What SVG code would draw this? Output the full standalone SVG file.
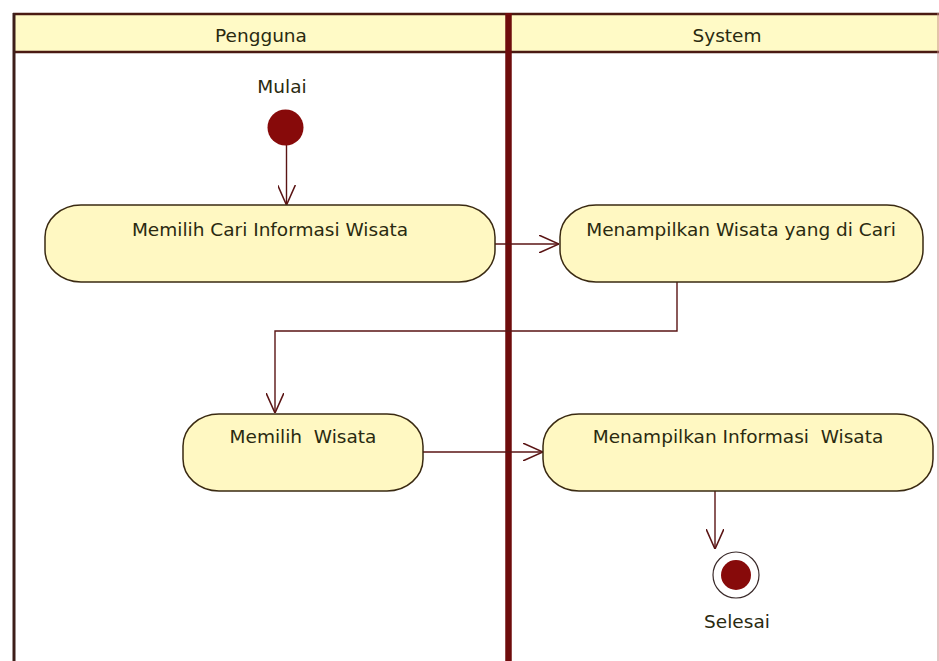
<svg xmlns="http://www.w3.org/2000/svg" width="939" height="661" viewBox="0 0 939 661">
  <style>
    .lbl { font-family: "DejaVu Sans", "Liberation Sans", sans-serif; font-size: 18.5px; fill: #2a2a10; text-anchor: middle; white-space: pre; }
    .act { fill: #fff8c2; stroke: #3a2a12; stroke-width: 1.5; }
    .edge { fill: none; stroke: #5a1414; stroke-width: 1.4; }
    .lane { stroke: #4a1a12; }
  </style>
  <defs>
    <marker id="open" markerUnits="userSpaceOnUse" markerWidth="20" markerHeight="18" viewBox="0 0 18 16" refX="18" refY="8" orient="auto">
      <path d="M0,0 L18,8 L0,16" fill="none" stroke="#5a1414" stroke-width="1.4"/>
    </marker>
  </defs>

  <rect width="939" height="661" fill="#ffffff"/>

  <!-- swimlanes -->
  <g id="lanes">
    <rect x="13" y="13" width="926" height="39" fill="#fffac6"/>
    <line class="lane" x1="13" y1="14" x2="939" y2="14" stroke-width="2.5"/>
    <line class="lane" x1="13" y1="52" x2="939" y2="52" stroke-width="2.5"/>
    <line x1="14" y1="13" x2="14" y2="661" stroke="#3d1e1a" stroke-width="3"/>
    <line x1="508.5" y1="13" x2="508.5" y2="661" stroke="#6e0c0c" stroke-width="6.5"/>
    <line x1="938" y1="13" x2="938" y2="661" stroke="#c98a8a" stroke-width="1"/>
    <text class="lbl" x="261" y="42">Pengguna</text>
    <text class="lbl" x="727" y="42">System</text>
  </g>

  <!-- connectors -->
  <g id="connectors">
    <path class="edge" d="M286.5,145 L286.5,205" marker-end="url(#open)"/>
    <path class="edge" d="M495,244 L559,244" marker-end="url(#open)"/>
    <path class="edge" d="M677,282 L677,331 L275,331 L275,413" marker-end="url(#open)"/>
    <path class="edge" d="M423,452 L543,452" marker-end="url(#open)"/>
    <path class="edge" d="M715,491 L715,549" marker-end="url(#open)"/>
  </g>

  <!-- start -->
  <g id="start">
    <text class="lbl" x="282" y="93">Mulai</text>
    <circle cx="285.5" cy="127.5" r="18" fill="#870a0a"/>
  </g>

  <g id="act-cari">
    <rect class="act" x="45" y="205" width="450" height="77" rx="36" ry="32"/>
    <text class="lbl" x="270" y="236">Memilih Cari Informasi Wisata</text>
  </g>

  <g id="act-tampil-cari">
    <rect class="act" x="560" y="205" width="363" height="77" rx="36" ry="32"/>
    <text class="lbl" x="741" y="236">Menampilkan Wisata yang di Cari</text>
  </g>

  <g id="act-pilih">
    <rect class="act" x="183" y="414" width="240" height="77" rx="36" ry="32"/>
    <text class="lbl" x="303" y="443">Memilih  Wisata</text>
  </g>

  <g id="act-tampil-info">
    <rect class="act" x="543" y="414" width="390" height="77" rx="36" ry="32"/>
    <text class="lbl" x="738" y="443">Menampilkan Informasi  Wisata</text>
  </g>

  <!-- end -->
  <g id="end">
    <circle cx="736" cy="575" r="23" fill="#ffffff" stroke="#3a2a2a" stroke-width="1.2"/>
    <circle cx="736" cy="575" r="15" fill="#870a0a"/>
    <text class="lbl" x="737" y="628">Selesai</text>
  </g>
</svg>
